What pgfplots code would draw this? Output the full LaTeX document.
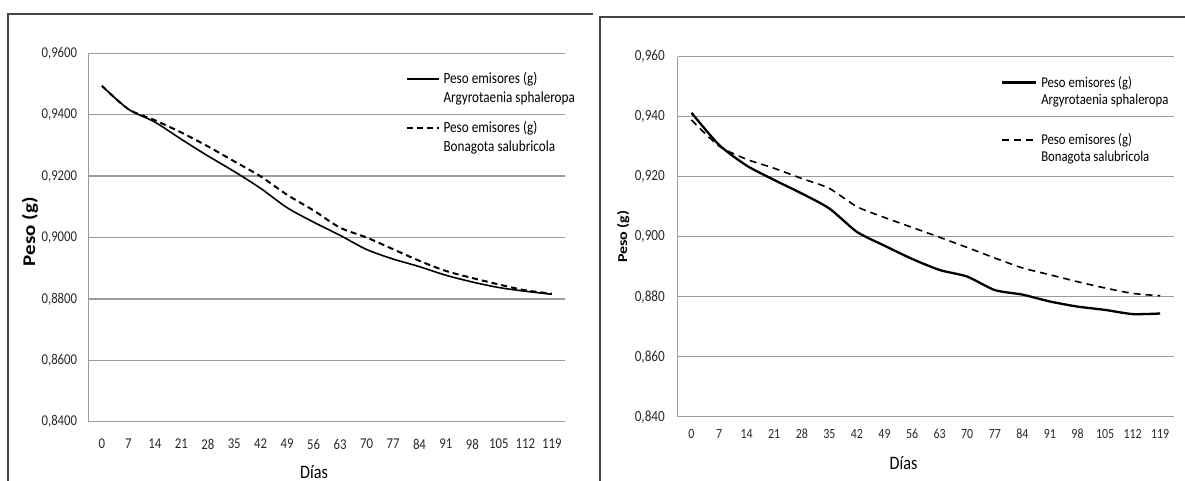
\documentclass[border=0pt]{standalone}
\usepackage{pgfplots}
\pgfplotsset{compat=1.18}
\usepackage{fontspec}
\usepackage{graphicx}
\setmainfont{Carlito}[FakeStretch=0.85]
\newfontfamily\plainfont{Carlito}
\definecolor{gridgray}{RGB}{155,155,155}
\definecolor{framegray}{RGB}{70,70,70}
\definecolor{tickcol}{RGB}{40,40,40}

\pgfplotstableread{
d A B
0   0.9494 0.9494
7   0.9418 0.9418
14  0.9376 0.9382
21  0.9320 0.9342
28  0.9266 0.9297
35  0.9215 0.9248
42  0.9160 0.9199
49  0.9097 0.9139
56  0.9050 0.9088
63  0.9007 0.9032
70  0.8961 0.9000
77  0.8930 0.8962
84  0.8905 0.8924
91  0.8877 0.8891
98  0.8855 0.8868
105 0.8837 0.8847
112 0.8825 0.8828
119 0.8815 0.8817
}\leftdata

\pgfplotstableread{
d A B
0   0.9413 0.9389
7   0.9306 0.9302
14  0.9237 0.9258
21  0.9189 0.9228
28  0.9144 0.9194
35  0.9094 0.9161
42  0.9016 0.9100
49  0.8970 0.9064
56  0.8926 0.9031
63  0.8889 0.8998
70  0.8867 0.8964
77  0.8822 0.8929
84  0.8807 0.8896
91  0.8784 0.8873
98  0.8767 0.8850
105 0.8756 0.8829
112 0.8742 0.8811
119 0.8744 0.8803
}\rightdata

\pgfplotsset{
  panel/.style={
    scale only axis, anchor=south west,
    xmin=-3.5, xmax=122.5, ymin=0.84, ymax=0.96,
    xtick={0,7,...,119},
    ytick={0.84,0.86,0.88,0.90,0.92,0.94,0.96},
    ymajorgrids, grid style={gridgray, line width=1.5bp},
    axis x line*=bottom, axis y line*=left,
    axis line style={gridgray, line width=1.5bp},
    major tick length=0pt,
    tick label style={color=tickcol, inner sep=0pt},
    /pgf/number format/assume math mode=true,
    xticklabel style={anchor=center},
    yticklabel style={anchor=east},
    legend cell align=left,
    legend style={draw=none, fill=none, inner sep=0pt, outer sep=0pt,
      anchor=north west, cells={anchor=base west, inner sep=0pt},
      /tikz/column sep=2bp},
  }
}

\begin{document}
\begin{tikzpicture}
\useasboundingbox (0bp,0bp) rectangle (1185bp,481bp);

\begin{axis}[panel,
  at={(88.7bp,59.3bp)}, width=476.3bp, height=368.4bp,
  xticklabel style={yshift=-22.3bp, font=\fontsize{15bp}{17bp}\selectfont},
  yticklabel style={xshift=-11.4bp, font=\fontsize{15bp}{17bp}\selectfont,
    /pgf/number format/.cd, fixed, fixed zerofill, precision=4, use comma},
  ylabel={\scalebox{1}[0.85]{\plainfont\bfseries\fontsize{21bp}{23bp}\selectfont Peso (g)}},
  ylabel style={at={(axis description cs:-0.1232,0.516)}, anchor=center},
  xlabel={\fontsize{19bp}{21bp}\selectfont Días},
  xlabel style={at={(axis description cs:0.473,-0.136)}, anchor=center},
  legend style={at={(axis description cs:0.6653,0.9536)},
    font=\fontsize{15.5bp}{19bp}\selectfont, row sep=32bp},
  legend image code/.code={\draw[#1] (0bp,5bp) -- (32bp,5bp);},
]
\addplot[black, line width=1.6bp, smooth, tension=0.5] table[x=d, y=A] {\leftdata};
\addlegendentry{\vtop{\hbox{Peso emisores (g)}\hbox{Argyrotaenia sphaleropa}}}
\addplot[black, line width=2bp, dash pattern=on 6bp off 4bp, smooth, tension=0.5] table[x=d, y=B] {\leftdata};
\addlegendentry{\vtop{\hbox{Peso emisores (g)}\hbox{Bonagota salubricola}}}
\end{axis}

\begin{axis}[panel,
  at={(677.7bp,64.3bp)}, width=496.3bp, height=360bp,
  xticklabel style={yshift=-17.5bp, font=\fontsize{14bp}{16bp}\selectfont},
  yticklabel style={xshift=-12.7bp, font=\fontsize{15.5bp}{17bp}\selectfont,
    /pgf/number format/.cd, fixed, fixed zerofill, precision=3, use comma},
  ylabel={\scalebox{1}[0.85]{\plainfont\bfseries\fontsize{16bp}{18bp}\selectfont Peso (g)}},
  ylabel style={at={(axis description cs:-0.110,0.5)}, anchor=center},
  xlabel={\fontsize{19bp}{21bp}\selectfont Días},
  xlabel style={at={(axis description cs:0.455,-0.129)}, anchor=center},
  legend style={at={(axis description cs:0.6514,0.9508)},
    font=\fontsize{15bp}{17bp}\selectfont, row sep=41bp},
  legend image code/.code={\draw[#1] (0bp,5bp) -- (34bp,5bp);},
]
\addplot[black, line width=2.3bp, smooth, tension=0.4] table[x=d, y=A] {\rightdata};
\addlegendentry{\vtop{\hbox{Peso emisores (g)}\hbox{Argyrotaenia sphaleropa}}}
\addplot[black, line width=1.6bp, dash pattern=on 7bp off 5bp, smooth, tension=0.4] table[x=d, y=B] {\rightdata};
\addlegendentry{\vtop{\hbox{Peso emisores (g)}\hbox{Bonagota salubricola}}}
\end{axis}

\draw[framegray, line width=2bp] (8bp,0bp) -- (8bp,467bp) -- (593bp,467bp);
\draw[framegray, line width=1.5bp] (600bp,0bp) -- (600bp,464bp) -- (1185bp,464bp);
\end{tikzpicture}
\end{document}
